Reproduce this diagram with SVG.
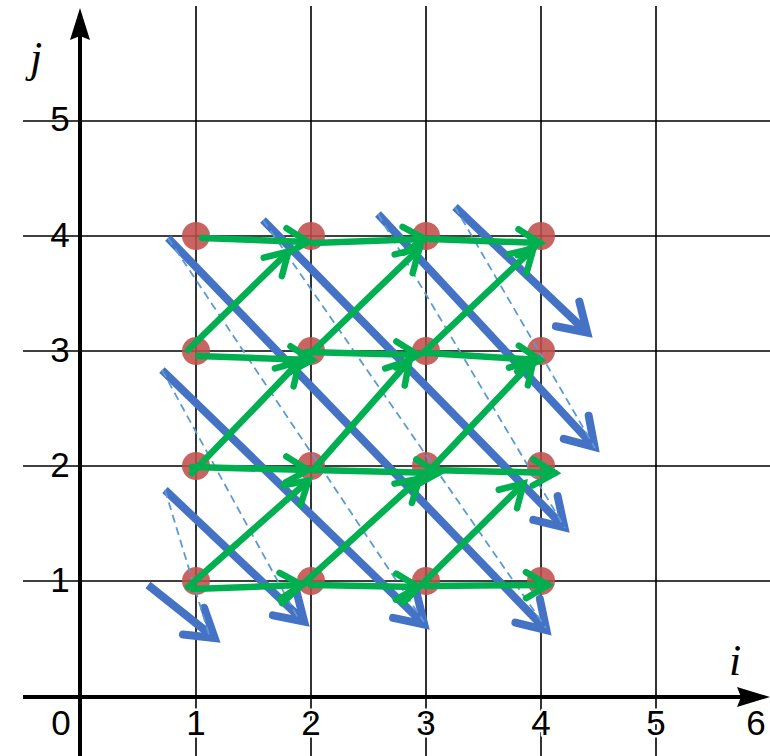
<svg xmlns="http://www.w3.org/2000/svg" width="770" height="756" viewBox="0 0 770 756">
<style>
.grid{stroke:#000;stroke-width:1.6;fill:none}
.axis{stroke:#000;stroke-width:4;fill:none}
.num{font-family:"Liberation Sans",Arial,sans-serif;font-size:35px;fill:#000;text-anchor:middle}
.xn{stroke:#fff;stroke-width:5;paint-order:stroke;stroke-linejoin:round}
.var{font-family:"Liberation Serif","Times New Roman",serif;font-style:italic;font-size:44px;fill:#000}
.dot{fill:#C0504D;fill-opacity:0.88}
.blue{stroke:#4472C4;stroke-width:8;fill:none;marker-end:url(#ab)}
.dash{stroke:#5B9BD5;stroke-width:1.8;stroke-dasharray:8 5;fill:none}
.green{stroke:#00B050;stroke-width:6.5;fill:none;stroke-linecap:round;marker-end:url(#ag)}
</style>
<defs>
<marker id="ab" viewBox="-40 -25 50 50" refX="0" refY="0" markerWidth="50" markerHeight="50" markerUnits="userSpaceOnUse" orient="auto" overflow="visible">
<path d="M-27,-17 L0,0 L-27,17" fill="none" stroke="#4472C4" stroke-width="8" stroke-linecap="round" stroke-linejoin="miter"/>
</marker>
<marker id="ag" viewBox="-40 -25 50 50" refX="0" refY="0" markerWidth="50" markerHeight="50" markerUnits="userSpaceOnUse" orient="auto" overflow="visible">
<path d="M-22,-13 L0,0 L-22,13" fill="none" stroke="#00B050" stroke-width="6.5" stroke-linecap="round" stroke-linejoin="miter"/>
</marker>
</defs>
<rect width="770" height="756" fill="#fff"/>
<g id="grid">
<path class="grid" d="M196,6V756M311,6V756M426,6V756M541,6V756M656,6V756"/>
<path class="grid" d="M23,121H770M23,236H770M23,351H770M23,466H770M23,581H770"/>
</g>
<g id="axes">
<path class="axis" d="M23,697H742M80,756V36"/>
<polygon points="770,697 737,687 741,697 737,707" fill="#000"/>
<polygon points="80,8 70,40 80,36 90,40" fill="#000"/>
</g>
<g id="labels">
<text class="num xn" x="61" y="735">0</text>
<text class="num xn" x="196" y="735">1</text>
<text class="num xn" x="311" y="735">2</text>
<text class="num xn" x="426" y="735">3</text>
<text class="num xn" x="541" y="735">4</text>
<text class="num xn" x="656" y="735">5</text>
<text class="num xn" x="756" y="735">6</text>
<text class="num" x="60" y="592">1</text>
<text class="num" x="60" y="477">2</text>
<text class="num" x="60" y="362">3</text>
<text class="num" x="60" y="247">4</text>
<text class="num" x="60" y="131">5</text>
<text class="var" x="30" y="72">j</text>
<text class="var" x="729" y="675">i</text>
</g>
<g id="nodes">
<g id="n11"><circle class="dot" cx="196" cy="581" r="14"/></g>
<g id="n21"><circle class="dot" cx="311" cy="581" r="14"/></g>
<g id="n31"><circle class="dot" cx="426" cy="581" r="14"/></g>
<g id="n41"><circle class="dot" cx="541" cy="581" r="14"/></g>
<g id="n12"><circle class="dot" cx="196" cy="466" r="14"/></g>
<g id="n22"><circle class="dot" cx="311" cy="466" r="14"/></g>
<g id="n32"><circle class="dot" cx="426" cy="466" r="14"/></g>
<g id="n42"><circle class="dot" cx="541" cy="466" r="14"/></g>
<g id="n13"><circle class="dot" cx="196" cy="351" r="14"/></g>
<g id="n23"><circle class="dot" cx="311" cy="351" r="14"/></g>
<g id="n33"><circle class="dot" cx="426" cy="351" r="14"/></g>
<g id="n43"><circle class="dot" cx="541" cy="351" r="14"/></g>
<g id="n14"><circle class="dot" cx="196" cy="236" r="14"/></g>
<g id="n24"><circle class="dot" cx="311" cy="236" r="14"/></g>
<g id="n34"><circle class="dot" cx="426" cy="236" r="14"/></g>
<g id="n44"><circle class="dot" cx="541" cy="236" r="14"/></g>
</g>
<g id="connectors">
<g id="blue-arrows">
<path class="blue" d="M148,585L214.7,638"/>
<path class="blue" d="M165,490L304.2,621.5"/>
<path class="blue" d="M162,370L424.3,624.4"/>
<path class="blue" d="M168,238L546.4,630.2"/>
<path class="blue" d="M263,220L564.4,527.3"/>
<path class="blue" d="M378,214L594.6,447.1"/>
<path class="blue" d="M455,207L587.2,332.5"/>
</g>
<g id="dashed">
<path class="dash" d="M165,490L210,638"/>
<path class="dash" d="M162,370L298,618"/>
<path class="dash" d="M168,238L424,622"/>
<path class="dash" d="M263,220L546,628"/>
<path class="dash" d="M378,214L565,528"/>
<path class="dash" d="M455,207L595,448"/>
</g>
<g id="green-arrows">
<path class="green" d="M202,238L308,242"/>
<path class="green" d="M313,243L425,239"/>
<path class="green" d="M430,239L540,243"/>
<path class="green" d="M198,356L312,360"/>
<path class="green" d="M307,352L418,355"/>
<path class="green" d="M427,353L540,360"/>
<path class="green" d="M192,467L308,470"/>
<path class="green" d="M313,470L438,473"/>
<path class="green" d="M430,470L555,473"/>
<path class="green" d="M193,589L302,585"/>
<path class="green" d="M311,585L418,587"/>
<path class="green" d="M426,586L548,585"/>
<path class="green" d="M188,587L308.5,480.5"/>
<path class="green" d="M282,603L419.5,478.5"/>
<path class="green" d="M403,603L523.5,483.5"/>
<path class="green" d="M192,473L299.5,361.5"/>
<path class="green" d="M313,470L409.5,360.5"/>
<path class="green" d="M430,470L533.5,360.5"/>
<path class="green" d="M188,350L288.5,251.5"/>
<path class="green" d="M311,353L419.5,248.5"/>
<path class="green" d="M423,353L533.5,248.5"/>
</g>
</g>
</svg>
